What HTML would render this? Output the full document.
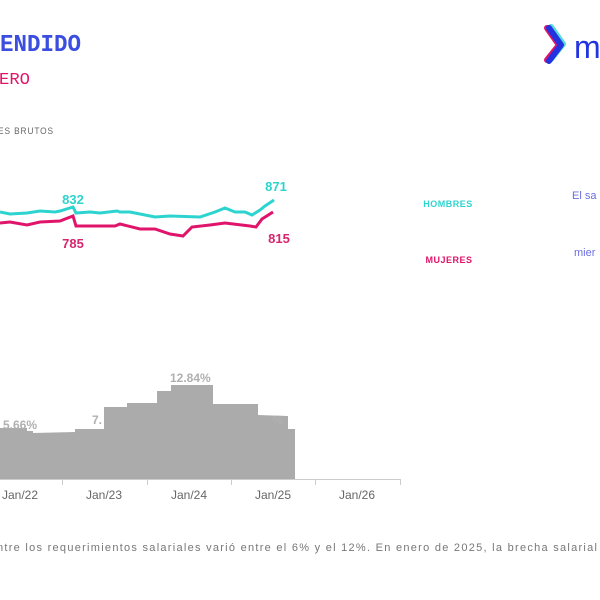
<!DOCTYPE html>
<html><head><meta charset="utf-8"><style>
html,body{margin:0;padding:0;background:#fff;width:600px;height:600px;overflow:hidden}
svg{display:block}
</style></head><body>
<svg width="600" height="600" viewBox="0 0 600 600" xmlns="http://www.w3.org/2000/svg" font-family="Liberation Sans, sans-serif">
<text x="0" y="51" font-size="24" font-weight="bold" fill="#3b4ee0" textLength="81" lengthAdjust="spacingAndGlyphs" font-family="Liberation Mono, monospace">ENDIDO</text>
<text x="-1" y="84" font-size="17" fill="#e0146a" textLength="31" lengthAdjust="spacingAndGlyphs" font-family="Liberation Mono, monospace">ERO</text>
<text x="-2" y="134" font-size="9.5" fill="#666" letter-spacing="1" textLength="56" lengthAdjust="spacingAndGlyphs">ES BRUTOS</text>
<!-- logo -->
<path d="M547 28 L559 45 L547 60" fill="none" stroke="#e0146a" stroke-width="6" stroke-linecap="round" stroke-linejoin="round"/>
<path d="M551 27 L563 44 L551 59" fill="none" stroke="#2dd4cf" stroke-width="6" stroke-linecap="round" stroke-linejoin="round" opacity="0.8"/>
<path d="M549 28 L561 45 L549 61" fill="none" stroke="#2233e0" stroke-width="6" stroke-linecap="round" stroke-linejoin="round"/>
<text x="574" y="58" font-size="32" fill="#2233e0">m</text>
<!-- lines -->
<polyline fill="none" stroke="#2dd4cf" stroke-width="3" points="0,212 10,214 27,213 40,211 55,212 60,211 73,207 76,213 90,212 100,213 117,211 120,212 130,212 155,217 170,216 200,217 215,212 225,208 235,212 245,212 252,215 260,210 265,206 274,200"/>
<polyline fill="none" stroke="#e0146a" stroke-width="3" points="0,223 10,222 27,225 40,222 60,221 73,216 76,226 90,226 115,226 120,224 140,229 155,229 170,234 183,236 192,227 210,225 225,223 250,226 256,227 262,219 273,212"/>
<g font-weight="bold" font-size="13">
<text x="73" y="204" fill="#2dd4cf" text-anchor="middle">832</text>
<text x="276" y="191" fill="#2dd4cf" text-anchor="middle">871</text>
<text x="73" y="248" fill="#d6266e" text-anchor="middle">785</text>
<text x="279" y="243" fill="#d6266e" text-anchor="middle">815</text>
</g>
<text x="448" y="207" font-size="9" font-weight="bold" fill="#2dd4cf" text-anchor="middle" letter-spacing="0.5">HOMBRES</text>
<text x="449" y="263" font-size="9" font-weight="bold" fill="#e0146a" text-anchor="middle" letter-spacing="0.5">MUJERES</text>
<text x="572" y="199" font-size="11" fill="#6b6fe0">El sa</text>
<text x="574" y="256" font-size="11" fill="#6b6fe0">mier</text>
<!-- bars -->
<path fill="#ababab" d="M0,479 L0,428 L27,428 L27,431 L33,431 L33,433 L75,432 L75,429 L104,429 L104,407 L127,407 L127,403 L157,403 L157,391 L171,391 L171,385 L213,385 L213,404 L258,404 L258,415 L288,416 L288,429 L295,429 L295,479 Z"/>
<line x1="0" y1="479.5" x2="400" y2="479.5" stroke="#ccc" stroke-width="1"/>
<g stroke="#ccc"><line x1="62.5" y1="479" x2="62.5" y2="485"/><line x1="147.5" y1="479" x2="147.5" y2="485"/><line x1="231.5" y1="479" x2="231.5" y2="485"/><line x1="315.5" y1="479" x2="315.5" y2="485"/><line x1="400.5" y1="479" x2="400.5" y2="485"/></g>
<g font-size="12" fill="#666" text-anchor="middle">
<text x="20" y="499">Jan/22</text><text x="104" y="499">Jan/23</text><text x="189" y="499">Jan/24</text><text x="273" y="499">Jan/25</text><text x="357" y="499">Jan/26</text>
</g>
<g font-size="12" font-weight="bold" fill="#b0b0b0">
<text x="3" y="429">5.66%</text><text x="92" y="424">7.</text><text x="170" y="382">12.84%</text><text x="272" y="424">%</text>
</g>
<text x="-3" y="551" font-size="11" fill="#777" textLength="600" lengthAdjust="spacing">ntre los requerimientos salariales varió entre el 6% y el 12%. En enero de 2025, la brecha salarial</text>
</svg>
</body></html>
